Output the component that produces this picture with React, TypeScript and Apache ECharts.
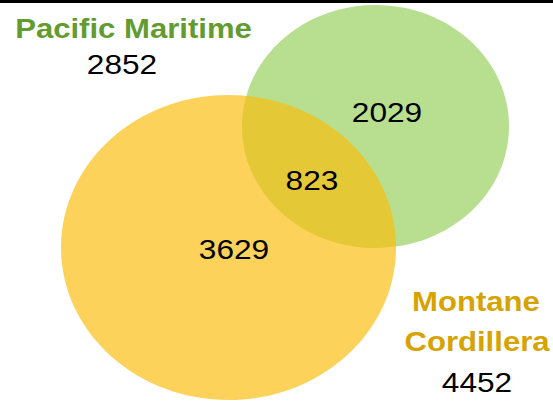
import React, { useEffect, useRef } from "react";
import * as echarts from "echarts";

// Data
const setNames = ["Pacific Maritime", "Montane Cordillera"];
const setTotals = [2852, 4452];
const regionNames = ["Pacific Maritime only", "Both", "Montane Cordillera only"];
const regionValues = [2029, 823, 3629];

// Layout (pixels)
const W = 553;
const H = 401;
const SX = 1.11; // horizontal stretch of the original picture
const greenEllipse = { cx: 375.5, cy: 126.5, rx: 133.5, ry: 121.5 };
const yellowEllipse = { cx: 228.5, cy: 247.5, rx: 167.5, ry: 152.5 };

const FONT = "'Liberation Sans', Arial, Helvetica, sans-serif";
const GREEN_TEXT = "#629B30";
const GOLD_TEXT = "#D6A300";

function txt(text: string, x: number, y: number, fill: string, bold: boolean, size = 28) {
  return {
    type: "text",
    x,
    y,
    scaleX: SX,
    z: 10,
    style: {
      text,
      x: 0,
      y: 0,
      fill,
      font: `${bold ? "bold " : ""}${size}px ${FONT}`,
      align: "center",
      verticalAlign: "middle",
    },
  };
}

export default function App() {
  const ref = useRef<HTMLDivElement>(null);
  useEffect(() => {
    if (!ref.current) return;
    const chart = echarts.init(ref.current, undefined, { renderer: "svg", width: W, height: H });
    const [pmName, mcName] = setNames;
    const mcWords = mcName.split(" ");
    chart.setOption({
      animation: false,
      backgroundColor: "#ffffff",
      graphic: [
        {
          type: "ellipse",
          shape: greenEllipse,
          style: { fill: "rgb(183,223,143)" },
          z: 1,
        },
        {
          type: "ellipse",
          shape: yellowEllipse,
          style: { fill: "rgba(250,189,12,0.68)" },
          z: 2,
        },
        {
          type: "rect",
          shape: { x: 0, y: 0, width: W, height: 3 },
          style: { fill: "#000000" },
          z: 5,
        },
        txt(pmName, 133.5, 28, GREEN_TEXT, true),
        txt(String(setTotals[0]), 122, 64, "#000000", false, 28.5),
        txt(String(regionValues[0]), 387, 112, "#000000", false, 28.5),
        txt(String(regionValues[1]), 312, 180, "#000000", false, 28.5),
        txt(String(regionValues[2]), 234, 249, "#000000", false, 28.5),
        txt(mcWords[0], 476, 301, GOLD_TEXT, true),
        txt(mcWords[1], 477, 341, GOLD_TEXT, true),
        txt(String(setTotals[1]), 477, 382, "#000000", false, 28.5),
      ],
    });
    return () => chart.dispose();
  }, []);
  return (
    <div
      ref={ref}
      style={{ position: "fixed", left: 0, top: 0, width: W, height: H }}
      data-regions={regionNames.join(",")}
    />
  );
}
